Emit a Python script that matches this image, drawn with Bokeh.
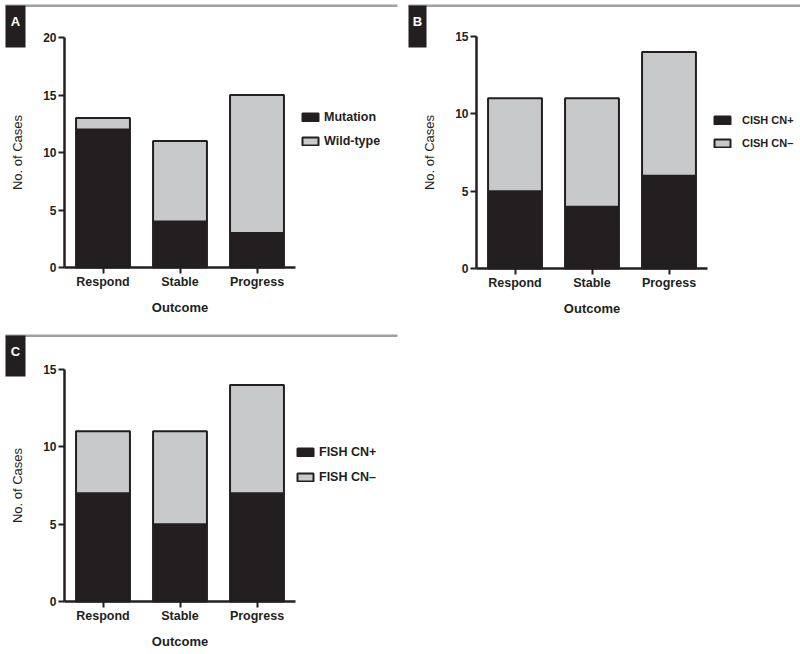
from bokeh.plotting import figure
from bokeh.models import (Range1d, Legend, LegendItem, Label, BoxAnnotation,
                          ColumnDataSource, FixedTicker)
from bokeh.layouts import column, row
from bokeh.embed import file_html
from bokeh.resources import INLINE

# ---- data ----
outcomes = ["Respond", "Stable", "Progress"]
a_mutation = [12, 4, 3]
a_wildtype = [1, 7, 12]
b_cish_pos = [5, 4, 6]
b_cish_neg = [6, 7, 8]
c_fish_pos = [7, 5, 7]
c_fish_neg = [4, 6, 7]
a_labels = ["Mutation", "Wild-type"]
b_labels = ["CISH CN+", "CISH CN\u2013"]
c_labels = ["FISH CN+", "FISH CN\u2013"]
a_yticks = [0, 5, 10, 15, 20]
bc_yticks = [0, 5, 10, 15]

BLACK = "#231f20"
GRAY = "#c8c9cb"
LINE_GRAY = "#a0a0a0"
FONT = "Liberation Sans"


def panel(letter, pos, neg, labels, ymax, yticks, canvas, axis_px, ymax_px,
          y0_px, leg_swatch, leg_standoff, leg_pitch, leg_font, box, rule):
    """canvas = (left, top, right, bottom) in page pixels."""
    cl, ct, cr, cb = canvas
    ppx = 77.0                       # pixels per category
    ppy = (y0_px - ymax_px) / ymax   # pixels per case

    def X(px):
        return -0.5 + (px - axis_px) / ppx

    def Y(py):
        return (y0_px - py) / ppy

    p = figure(title=None, width=cr - cl, height=cb - ct,
               x_range=Range1d(X(cl), X(cr)), y_range=Range1d(Y(cb), Y(ct)),
               min_border=0, min_border_left=0, min_border_right=0,
               min_border_top=0, min_border_bottom=0,
               output_backend="svg", toolbar_location=None)
    xs = list(range(len(outcomes)))
    src = ColumnDataSource(dict(x=xs, pos=pos, neg=neg))
    rs = p.vbar_stack(["pos", "neg"], x="x", width=0.7, source=src,
                      fill_color=[BLACK, GRAY], line_color=BLACK, line_width=2)
    p.xgrid.visible = False
    p.ygrid.visible = False
    p.outline_line_color = None

    for ax in (p.xaxis[0], p.yaxis[0]):
        ax.axis_line_width = 2.5
        ax.axis_line_color = BLACK
        ax.major_tick_line_width = 2
        ax.major_tick_line_color = BLACK
        ax.major_tick_out = 6
        ax.major_tick_in = 0
        ax.minor_tick_line_color = None
        ax.major_label_text_font = FONT
        ax.major_label_text_font_style = "bold"
        ax.major_label_text_color = BLACK
        ax.major_label_standoff = 2
        ax.axis_label_text_font = FONT
        ax.axis_label_text_font_size = "13px"
        ax.axis_label_text_color = BLACK

    xa = p.xaxis[0]
    xa.fixed_location = 0
    xa.bounds = (-0.5, len(outcomes) - 0.5)
    xa.ticker = FixedTicker(ticks=xs)
    xa.major_label_overrides = {i: name for i, name in zip(xs, outcomes)}
    xa.major_label_text_font_size = "12.5px"
    xa.major_label_standoff = 1
    xa.axis_label = "Outcome"
    xa.axis_label_text_font_style = "bold"
    xa.axis_label_standoff = 8

    ya = p.yaxis[0]
    ya.fixed_location = -0.5
    ya.bounds = (0, ymax)
    ya.ticker = FixedTicker(ticks=yticks)
    ya.major_label_text_font_size = "12px"
    ya.axis_label = "No. of Cases"
    ya.axis_label_text_font_style = "normal"
    ya.axis_label_standoff = 15

    # legend (inside the frame, which covers the whole canvas)
    sx, sy = leg_swatch
    item_h = 16
    spacing = leg_pitch - item_h
    leg_top = sy - (item_h - 10) / 2
    leg_bottom = leg_top + 2 * item_h + spacing
    leg = Legend(items=[LegendItem(label=labels[0], renderers=[rs[0]]),
                        LegendItem(label=labels[1], renderers=[rs[1]])],
                 location=(sx - cl, cb - leg_bottom), orientation="vertical",
                 glyph_width=20, glyph_height=10, label_height=item_h,
                 label_standoff=leg_standoff, spacing=spacing, padding=0,
                 margin=0, border_line_alpha=0, background_fill_alpha=0,
                 label_text_font=FONT, label_text_font_size=leg_font,
                 label_text_font_style="bold", label_text_color=BLACK)
    p.add_layout(leg, "center")

    # header rule and letter tab
    rx0, rx1, ry = rule
    p.add_layout(BoxAnnotation(left=X(rx0), right=X(rx1), top=Y(ry),
                               bottom=Y(ry + 2.5), fill_color=LINE_GRAY,
                               fill_alpha=1, line_color=None))
    bx0, by0, bx1, by1 = box
    p.add_layout(BoxAnnotation(left=X(bx0), right=X(bx1), top=Y(by0),
                               bottom=Y(by1), fill_color=BLACK, fill_alpha=1,
                               line_color=None))
    p.add_layout(Label(x=X((bx0 + bx1) / 2), y=Y(by0 + 8), text=letter,
                       text_color="white", text_font=FONT,
                       text_font_size="13px", text_font_style="bold",
                       text_align="center", text_baseline="top"))
    return p


pA = panel("A", a_mutation, a_wildtype, a_labels, 20, a_yticks,
           canvas=(0, 0, 400, 330), axis_px=64, ymax_px=37, y0_px=267,
           leg_swatch=(300, 112), leg_standoff=4, leg_pitch=24,
           leg_font="12.5px", box=(5, 5, 25, 47), rule=(5, 397, 4))
pB = panel("B", b_cish_pos, b_cish_neg, b_labels, 15, bc_yticks,
           canvas=(400, 0, 800, 330), axis_px=476, ymax_px=36, y0_px=268,
           leg_swatch=(712, 115), leg_standoff=10, leg_pitch=23,
           leg_font="11px", box=(408, 5, 426, 47), rule=(408, 800, 4))
pC = panel("C", c_fish_pos, c_fish_neg, c_labels, 15, bc_yticks,
           canvas=(0, 330, 400, 654), axis_px=64, ymax_px=369, y0_px=601,
           leg_swatch=(295, 447), leg_standoff=4, leg_pitch=25,
           leg_font="12.5px", box=(5, 335, 25, 376), rule=(5, 397, 334))

layout = column(row(pA, pB), pC)

open("out.html", "w").write(file_html(layout, INLINE))
